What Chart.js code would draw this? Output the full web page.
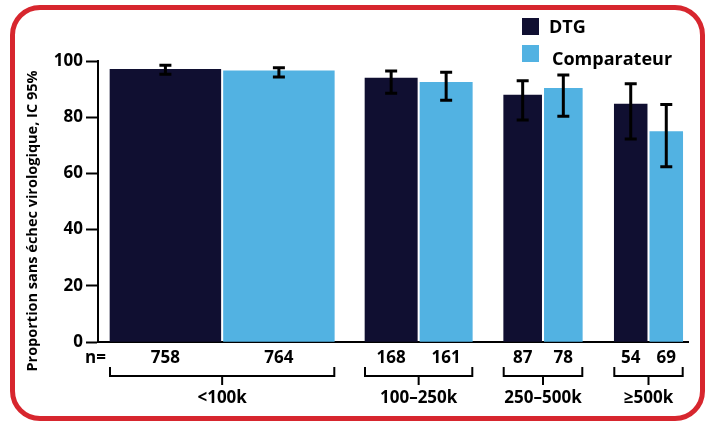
<!DOCTYPE html>
<html>
<head>
<meta charset="utf-8">
<script src="https://cdn.jsdelivr.net/npm/chart.js@4.4.1/dist/chart.umd.min.js"></script>
<style>
body { margin: 0; background: #fff; }
#wrap { position: relative; width: 713px; height: 421px; overflow: hidden; font-family: "Open Sans", sans-serif; }
#frame { position: absolute; left: 10px; top: 5px; width: 695px; height: 416px; box-sizing: border-box;
  border: 5px solid #d7262e; border-radius: 30px; pointer-events: none; }
.lg { position: absolute; left: 522px; width: 17px; height: 17px; }
.lt { position: absolute; font-weight: bold; font-size: 18px; color: #000; line-height: 22px; }
</style>
</head>
<body>
<div id="wrap">
  <canvas id="chart" width="713" height="421"></canvas>
  <div id="frame"></div>
  <div class="lg" style="top:18px;background:#100f31"></div>
  <div class="lt" style="left:549px;top:15px">DTG</div>
  <div class="lg" style="top:45px;background:#52b2e2"></div>
  <div class="lt" style="left:552px;top:47px">Comparateur</div>
</div>
<script>
// données
var groups = ['<100k', '100\u2013250k', '250\u2013500k', '\u2265500k'];
var seriesNames = ['DTG', 'Comparateur'];
var dtgValues = [97.0, 93.9, 87.9, 84.7];
var compValues = [96.5, 92.4, 90.3, 74.9];
var dtgLow = [95.3, 88.5, 79.0, 72.2];
var dtgHigh = [98.5, 96.4, 93.0, 91.9];
var compLow = [94.3, 86.0, 80.3, 62.4];
var compHigh = [97.6, 96.0, 95.0, 84.5];
var dtgN = [758, 168, 87, 54];
var compN = [764, 161, 78, 69];
var yTicks = [0, 20, 40, 60, 80, 100];

// mise en page (unités de l'axe x, 0..590)
var groupSpans = [[12, 236.3], [267, 374.3], [405.7, 484.3], [516.3, 584.7]];
var barGap = 2.7;
var colors = ['#100f31', '#52b2e2'];

function barWidth(g) { return (groupSpans[g][1] - groupSpans[g][0] - barGap) / 2; }
function barCenter(g, s) {
	var w = barWidth(g);
	return s == 0 ? groupSpans[g][0] + w / 2 : groupSpans[g][1] - w / 2;
}

var values = [dtgValues, compValues];
var lows = [dtgLow, compLow];
var highs = [dtgHigh, compHigh];
var counts = [dtgN, compN];

var datasets = [];
for (var g = 0; g < groups.length; g++) {
	for (var s = 0; s < 2; s++) {
		datasets.push({
			label: seriesNames[s],
			data: [{ x: barCenter(g, s), y: values[s][g] }],
			backgroundColor: colors[s],
			borderWidth: 0,
			barThickness: barWidth(g),
			grouped: false
		});
	}
}

var font = "'Open Sans', sans-serif";

var extras = {
	id: 'extras',
	afterDatasetsDraw: function (chart) {
		var ctx = chart.ctx, xs = chart.scales.x, ys = chart.scales.y;
		ctx.save();
		ctx.strokeStyle = '#000';
		ctx.lineWidth = 3;
		for (var g = 0; g < groups.length; g++) {
			for (var s = 0; s < 2; s++) {
				var cx = xs.getPixelForValue(barCenter(g, s));
				var y1 = ys.getPixelForValue(lows[s][g]);
				var y2 = ys.getPixelForValue(highs[s][g]);
				ctx.beginPath();
				ctx.moveTo(cx, y1); ctx.lineTo(cx, y2);
				ctx.moveTo(cx - 6, y1); ctx.lineTo(cx + 6, y1);
				ctx.moveTo(cx - 6, y2); ctx.lineTo(cx + 6, y2);
				ctx.stroke();
			}
		}
		ctx.restore();
	},
	afterDraw: function (chart) {
		var ctx = chart.ctx, xs = chart.scales.x, area = chart.chartArea;
		var base = area.bottom;
		ctx.save();
		ctx.fillStyle = '#000';
		ctx.strokeStyle = '#000';
		ctx.font = 'bold 17px ' + font;
		ctx.textBaseline = 'middle';
		ctx.textAlign = 'right';
		ctx.fillText('n=', area.left + 8, base + 16);
		ctx.textAlign = 'center';
		ctx.lineWidth = 2;
		for (var g = 0; g < groups.length; g++) {
			for (var s = 0; s < 2; s++) {
				ctx.fillText(String(counts[s][g]), xs.getPixelForValue(barCenter(g, s)), base + 16);
			}
			var x1 = xs.getPixelForValue(groupSpans[g][0]);
			var x2 = xs.getPixelForValue(groupSpans[g][1]);
			var mid = (x1 + x2) / 2;
			ctx.beginPath();
			ctx.moveTo(x1, base + 25); ctx.lineTo(x1, base + 34); ctx.lineTo(x2, base + 34); ctx.lineTo(x2, base + 25);
			ctx.moveTo(mid, base + 34); ctx.lineTo(mid, base + 43);
			ctx.stroke();
			ctx.fillText(groups[g], mid, base + 56);
		}
		// titre de l'axe y
		ctx.translate(33, 221);
		ctx.rotate(-Math.PI / 2);
		ctx.font = 'bold 14.5px ' + font;
		ctx.fillText('Proportion sans \u00e9chec virologique, IC 95%', 0, 0);
		ctx.restore();
	}
};

new Chart(document.getElementById('chart'), {
	type: 'bar',
	data: { datasets: datasets },
	plugins: [extras],
	options: {
		responsive: false,
		animation: false,
		layout: { padding: { left: 0, top: 61, right: 25, bottom: 79 } },
		plugins: { legend: { display: false }, tooltip: { enabled: false } },
		scales: {
			x: {
				type: 'linear', min: 0, max: 590, offset: false,
				ticks: { display: false },
				grid: { drawOnChartArea: false, drawTicks: false, tickLength: 0, offset: false },
				border: { display: true, color: '#000', width: 2 },
				afterFit: function (sc) { sc.height = 0; }
			},
			y: {
				min: 0, max: 100,
				afterBuildTicks: function (sc) { sc.ticks = yTicks.map(function (v) { return { value: v }; }); },
				ticks: { color: '#000', padding: 3, font: { family: font, size: 17, weight: 'bold' } },
				grid: { drawOnChartArea: false, tickLength: 12, tickColor: '#000', tickWidth: 2 },
				border: { display: true, color: '#000', width: 2 },
				afterFit: function (sc) { sc.width = 98; }
			}
		}
	}
});
</script>
</body>
</html>
